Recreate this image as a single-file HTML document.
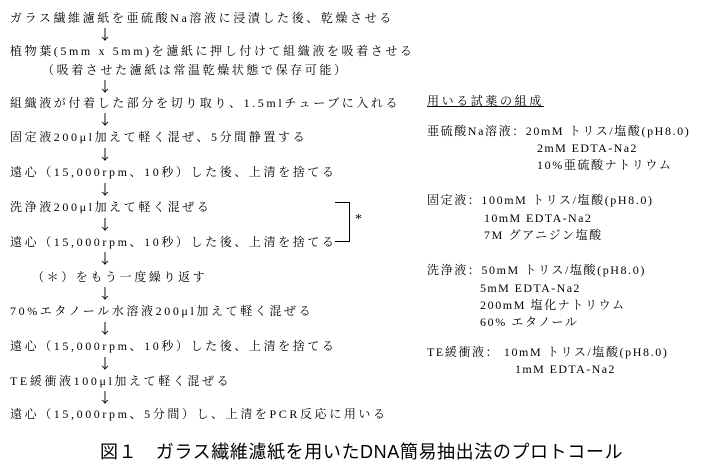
<!DOCTYPE html>
<html><head><meta charset="utf-8"><style>
body{margin:0;width:720px;height:472px;background:#fff;position:relative;overflow:hidden;font-family:"Liberation Serif","Noto Serif CJK SC","Noto Sans CJK JP",serif;color:#000}
.t{position:absolute;font-size:12px;letter-spacing:2.6px;white-space:nowrap;line-height:14px}
.a{position:absolute;left:98px;font-size:14px;line-height:14px;font-family:"Noto Sans CJK JP",sans-serif}
</style></head><body>
<div class="t" style="left:10px;top:11px">ガラス繊維濾紙を亜硫酸Na溶液に浸漬した後、乾燥させる</div>
<div class="a" style="top:28px">↓</div>
<div class="t" style="left:10px;top:44px">植物葉(5mm x 5mm)を濾紙に押し付けて組織液を吸着させる</div>
<div class="t" style="left:42px;top:63px">（吸着させた濾紙は常温乾燥状態で保存可能）</div>
<div class="a" style="top:80px">↓</div>
<div class="t" style="left:10px;top:96px">組織液が付着した部分を切り取り、1.5mlチューブに入れる</div>
<div class="a" style="top:113px">↓</div>
<div class="t" style="left:10px;top:130px">固定液200μl加えて軽く混ぜ、5分間静置する</div>
<div class="a" style="top:148px">↓</div>
<div class="t" style="left:10px;top:165px">遠心（15,000rpm、10秒）した後、上清を捨てる</div>
<div class="a" style="top:183px">↓</div>
<div class="t" style="left:10px;top:200px">洗浄液200μl加えて軽く混ぜる</div>
<div class="a" style="top:218px">↓</div>
<div class="t" style="left:10px;top:235px">遠心（15,000rpm、10秒）した後、上清を捨てる</div>
<div class="a" style="top:252px">↓</div>
<div class="t" style="left:32px;top:270px">（＊）をもう一度繰り返す</div>
<div class="a" style="top:287px">↓</div>
<div class="t" style="left:10px;top:304px">70%エタノール水溶液200μl加えて軽く混ぜる</div>
<div class="a" style="top:322px">↓</div>
<div class="t" style="left:10px;top:339px">遠心（15,000rpm、10秒）した後、上清を捨てる</div>
<div class="a" style="top:357px">↓</div>
<div class="t" style="left:10px;top:374px">TE緩衝液100μl加えて軽く混ぜる</div>
<div class="a" style="top:391px">↓</div>
<div class="t" style="left:10px;top:407px">遠心（15,000rpm、5分間）し、上清をPCR反応に用いる</div>
<div style="position:absolute;left:335px;top:202px;width:14px;height:38px;border:1px solid #000;border-left:none"></div>
<div class="t" style="left:355px;top:213px;font-size:14px">*</div>
<div class="t" style="left:427px;top:94px;text-decoration:underline">用いる試薬の組成</div>
<div class="t" style="left:427px;top:124px;letter-spacing:1.6px">亜硫酸Na溶液：20mM トリス/塩酸(pH8.0)</div>
<div class="t" style="left:537px;top:141px;letter-spacing:1.4px">2mM EDTA-Na2</div>
<div class="t" style="left:537px;top:158px;letter-spacing:1.6px">10%亜硫酸ナトリウム</div>
<div class="t" style="left:427px;top:193px;letter-spacing:1.6px">固定液：100mM トリス/塩酸(pH8.0)</div>
<div class="t" style="left:484px;top:211px;letter-spacing:1.4px">10mM EDTA-Na2</div>
<div class="t" style="left:484px;top:228px;letter-spacing:1.6px">7M グアニジン塩酸</div>
<div class="t" style="left:427px;top:263px;letter-spacing:1.6px">洗浄液：50mM トリス/塩酸(pH8.0)</div>
<div class="t" style="left:480px;top:281px;letter-spacing:1.4px">5mM EDTA-Na2</div>
<div class="t" style="left:480px;top:298px;letter-spacing:1.6px">200mM 塩化ナトリウム</div>
<div class="t" style="left:480px;top:315px;letter-spacing:1.6px">60% エタノール</div>
<div class="t" style="left:427px;top:345px;letter-spacing:1.6px">TE緩衝液： 10mM トリス/塩酸(pH8.0)</div>
<div class="t" style="left:515px;top:362px;letter-spacing:1.4px">1mM EDTA-Na2</div>
<div class="t" style="left:100px;top:441px;font-size:18px;line-height:22px;letter-spacing:0.6px;font-family:'Liberation Sans','Noto Sans CJK JP',sans-serif">図１　ガラス繊維濾紙を用いたDNA簡易抽出法のプロトコール</div>
</body></html>
